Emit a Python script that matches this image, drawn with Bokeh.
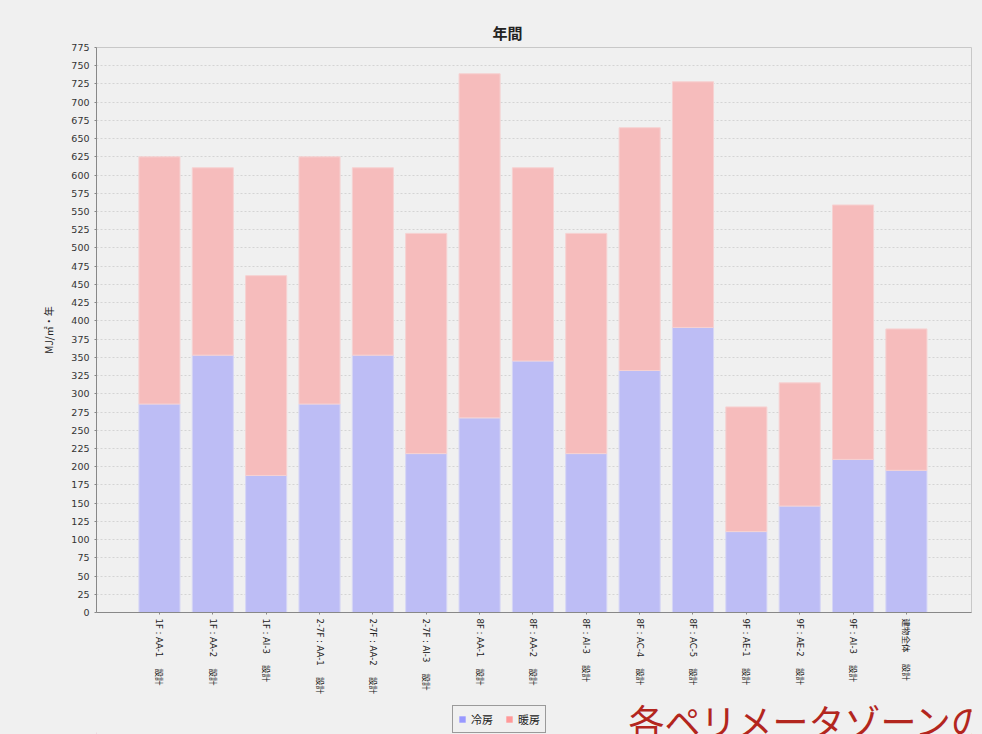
import math
from bokeh.plotting import figure
from bokeh.layouts import column
from bokeh.models import ColumnDataSource, Range1d, FixedTicker, Legend, LegendItem, Label, Title
from bokeh.embed import file_html
from bokeh.resources import INLINE

categories = ["1F : AA-1", "1F : AA-2", "1F : AI-3", "2-7F : AA-1", "2-7F : AA-2",
              "2-7F : AI-3", "8F : AA-1", "8F : AA-2", "8F : AI-3", "8F : AC-4",
              "8F : AC-5", "9F : AE-1", "9F : AE-2", "9F : AI-3", "建物全体"]
suffix = "設計"
cooling = [286, 353, 188, 286, 353, 218, 267, 345, 218, 332, 391, 111, 146, 210, 195]
heating = [339, 257, 274, 339, 257, 302, 472, 265, 302, 333, 337, 171, 169, 349, 194]
series_names = ["冷房", "暖房"]
legend_colors = ["#9999ff", "#ff9999"]
y_ticks = list(range(0, 776, 25))
caption = "各ペリメータゾーンの"

JP = "Noto Sans CJK JP"
MIX = "'DejaVu Sans', 'Noto Sans CJK JP'"
BG = "#f0f0f0"

xs = list(range(len(categories)))
src = ColumnDataSource(dict(x=xs, cooling=cooling, heating=heating))

p = figure(width=982, height=700, output_backend="svg", toolbar_location=None,
           x_range=Range1d(-1.18, len(categories) - 1 + 1.22), y_range=Range1d(0, 775),
           min_border_left=96, min_border_right=11, min_border_top=47, min_border_bottom=88,
           background_fill_color=BG, border_fill_color=BG, outline_line_color="#c8c8c8")

p.title = Title(text="年間", text_font=JP, text_font_size="15px", text_font_style="bold",
                text_color="#222222", align="left", offset=396)

rs = p.vbar_stack(["cooling", "heating"], x="x", width=0.77, source=src,
                  fill_color=["#bdbdf5", "#f6bcbc"],
                  line_color=["#d6d6f5", "#f6d2d2"], line_width=1)

# axes
p.yaxis.ticker = FixedTicker(ticks=y_ticks)
p.yaxis.axis_label = "MJ/㎡・年"
p.yaxis.axis_label_text_font = JP
p.yaxis.axis_label_text_font_size = "10px"
p.yaxis.axis_label_text_font_style = "normal"
p.yaxis.axis_label_text_color = "#222222"
p.yaxis.axis_label_standoff = 12
p.yaxis.major_label_text_font = "DejaVu Sans"
p.yaxis.major_label_text_font_size = "9.5px"
p.yaxis.major_label_text_color = "#333333"

p.xaxis.ticker = FixedTicker(ticks=xs)
p.xaxis.major_label_overrides = {i: f"{c}　 {suffix}" for i, c in zip(xs, categories)}
p.xaxis.major_label_orientation = -math.pi / 2
p.xaxis.major_label_text_font = MIX
p.xaxis.major_label_text_font_size = "8.5px"
p.xaxis.major_label_text_color = "#222222"
p.xaxis.major_label_standoff = 4

for ax in (p.xaxis, p.yaxis):
    ax.axis_line_color = "#888888"
    ax.major_tick_line_color = "#888888"
    ax.major_tick_out = 2
    ax.major_tick_in = 0
    ax.minor_tick_line_color = None

p.xgrid.grid_line_color = None
p.ygrid.ticker = FixedTicker(ticks=y_ticks)
p.ygrid.grid_line_color = "#d4d4d4"
p.ygrid.grid_line_dash = "2 2"

# bottom strip: legend + caption (its frame is aligned with the main frame: 96..971 px)
s = figure(width=982, height=34, output_backend="svg", toolbar_location=None,
           x_range=Range1d(96, 971), y_range=Range1d(0, 34),
           min_border_left=96, min_border_right=11, min_border_top=0, min_border_bottom=0,
           background_fill_color=BG, border_fill_color=BG, outline_line_color=None)
s.axis.visible = False
s.grid.visible = False
dummy = ColumnDataSource(dict(x=[-100], cooling=[1], heating=[1]))
lr = s.vbar_stack(["cooling", "heating"], x="x", width=1, source=dummy,
                  fill_color=legend_colors, line_color=None)

legend = Legend(items=[LegendItem(label=series_names[0], renderers=[lr[0]]),
                       LegendItem(label=series_names[1], renderers=[lr[1]])],
                orientation="horizontal", location=(356, 1),
                label_text_font=JP, label_text_font_size="11px", label_text_color="#222222",
                glyph_width=8, glyph_height=8, label_standoff=5, spacing=12,
                padding=5, margin=0, border_line_color="#444444",
                background_fill_color=BG, background_fill_alpha=1.0)
s.add_layout(legend, "center")

s.add_layout(Label(x=628, y=15, text=caption, text_font=JP, text_font_size="36px",
                   text_color="#b3261e", text_baseline="alphabetic"))

layout = column(p, s, spacing=0, styles={"background-color": BG})
open("out.html", "w").write(file_html(layout, INLINE))
